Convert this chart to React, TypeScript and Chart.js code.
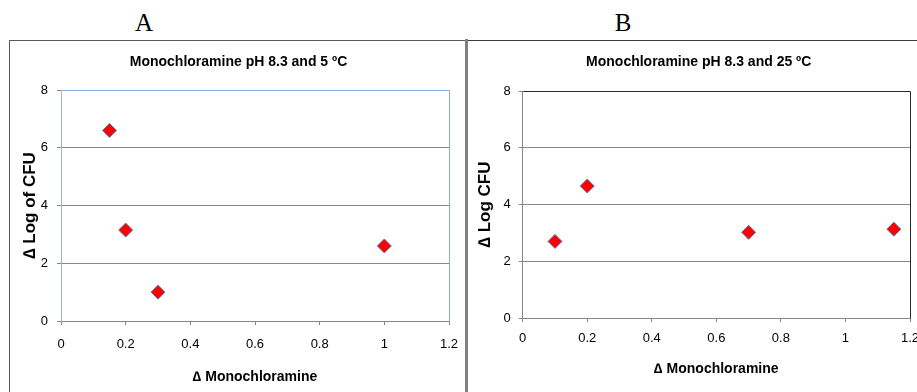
import React, { useEffect, useRef } from "react";
import { Chart, registerables } from "chart.js";

Chart.register(...registerables);

// ---- data ----
const panelLetters = ["A", "B"];
const titleA = "Monochloramine pH 8.3 and 5 ºC";
const titleB = "Monochloramine pH 8.3 and 25 ºC";
const yTitleA = "∆ Log of CFU";
const yTitleB = "∆ Log CFU";
const xTitle = "∆ Monochloramine";

const xTickValues = [0, 0.2, 0.4, 0.6, 0.8, 1.0, 1.2];
const xTickLabels = ["0", "0.2", "0.4", "0.6", "0.8", "1", "1.2"];
const yTickValues = [0, 2, 4, 6, 8];
const yTickLabels = ["0", "2", "4", "6", "8"];

const doseA = [0.15, 0.2, 0.3, 1.0];
const logA = [6.6, 3.15, 1.0, 2.6];
const doseB = [0.1, 0.2, 0.7, 1.15];
const logB = [2.7, 4.65, 3.02, 3.13];

const FONT = "'Liberation Sans', Arial, sans-serif";

const plotBorderPlugin = {
  id: "plotBorder",
  beforeDatasetsDraw(chart: any, _args: any, opts: any) {
    const { ctx, chartArea } = chart;
    const l = Math.round(chartArea.left) + 0.5;
    const r = Math.round(chartArea.right) + 0.5;
    const t = Math.round(chartArea.top) + 0.5;
    const b = Math.round(chartArea.bottom) + 0.5;
    ctx.save();
    ctx.strokeStyle = opts.color || "#000";
    ctx.lineWidth = 1;
    ctx.beginPath();
    ctx.moveTo(l, t);
    ctx.lineTo(r, t);
    ctx.lineTo(r, b);
    ctx.stroke();
    ctx.restore();
  },
};

type PanelProps = {
  width: number;
  height: number;
  xs: number[];
  ys: number[];
  title: string;
  yTitle: string;
  padL: number;
  padR: number;
  titlePadTop: number;
  titlePadBottom: number;
  yScaleWidth: number;
  xScaleHeight: number;
  yTitlePad: number;
  yTickPad: number;
  xTickPad: number;
  xTitlePadBottom: number;
  borderColor: string;
  yAxisColor: string;
};

function Panel(p: PanelProps) {
  const ref = useRef<HTMLCanvasElement | null>(null);
  useEffect(() => {
    if (!ref.current) return;
    const data = p.xs.map((x, i) => ({ x, y: p.ys[i] }));
    const chart = new Chart(ref.current, {
      type: "scatter",
      data: {
        datasets: [
          {
            data,
            pointStyle: "rectRot",
            pointRadius: 7,
            pointHoverRadius: 7,
            backgroundColor: "#ff0000",
            borderColor: "#4a7ebb",
            borderWidth: 1,
          },
        ],
      },
      plugins: [plotBorderPlugin],
      options: {
        responsive: false,
        animation: false,
        devicePixelRatio: 1,
        layout: { padding: { left: p.padL, right: p.padR, top: 0, bottom: 0 } },
        plugins: {
          legend: { display: false },
          tooltip: { enabled: false },
          plotBorder: { color: p.borderColor },
          title: {
            display: true,
            text: p.title,
            color: "#000",
            font: { family: FONT, size: 14, weight: "bold" },
            padding: { top: p.titlePadTop, bottom: p.titlePadBottom },
          },
        } as any,
        scales: {
          x: {
            type: "linear",
            min: 0,
            max: 1.2,
            afterBuildTicks: (axis: any) => {
              axis.ticks = xTickValues.map((v) => ({ value: v }));
            },
            afterFit: (axis: any) => {
              axis.height = p.xScaleHeight;
            },
            ticks: {
              color: "#000",
              font: { family: FONT, size: 13 },
              padding: p.xTickPad,
              maxRotation: 0,
              callback: (value: any) => {
                const i = xTickValues.findIndex((v) => Math.abs(v - value) < 1e-6);
                return i >= 0 ? xTickLabels[i] : "";
              },
            },
            grid: {
              display: true,
              drawOnChartArea: false,
              drawTicks: true,
              tickLength: 4,
              color: "#878787",
            },
            border: { display: true, color: "#878787", width: 1 },
            title: {
              display: true,
              text: xTitle,
              color: "#000",
              font: { family: FONT, size: 14, weight: "bold" },
              padding: { top: 0, bottom: p.xTitlePadBottom },
            },
          },
          y: {
            type: "linear",
            min: 0,
            max: 8,
            afterBuildTicks: (axis: any) => {
              axis.ticks = yTickValues.map((v) => ({ value: v }));
            },
            afterFit: (axis: any) => {
              axis.width = p.yScaleWidth;
            },
            ticks: {
              color: "#000",
              font: { family: FONT, size: 13 },
              padding: p.yTickPad,
              callback: (value: any) => {
                const i = yTickValues.findIndex((v) => Math.abs(v - value) < 1e-6);
                return i >= 0 ? yTickLabels[i] : "";
              },
            },
            grid: {
              display: true,
              drawOnChartArea: true,
              drawTicks: true,
              tickLength: 4,
              color: "#878787",
            },
            border: { display: true, color: p.yAxisColor, width: 1 },
            title: {
              display: true,
              text: p.yTitle,
              color: "#000",
              font: { family: FONT, size: 17, weight: "bold" },
              padding: { top: p.yTitlePad, bottom: 0 },
            },
          },
        },
      } as any,
    });
    return () => chart.destroy();
  }, []);
  return (
    <canvas
      ref={ref}
      width={p.width}
      height={p.height}
      style={{ width: p.width, height: p.height, display: "block" }}
    />
  );
}

export default function App() {
  return (
    <div
      style={{
        position: "fixed",
        left: 0,
        top: 0,
        width: 917,
        height: 392,
        overflow: "hidden",
        background: "#fff",
      }}
    >
      <div
        style={{
          position: "absolute",
          left: 144,
          top: 22,
          transform: "translate(-50%, -50%)",
          fontFamily: "'Liberation Serif', 'Times New Roman', serif",
          fontSize: 25,
          lineHeight: "25px",
          color: "#000",
        }}
      >
        {panelLetters[0]}
      </div>
      <div
        style={{
          position: "absolute",
          left: 623,
          top: 22,
          transform: "translate(-50%, -50%)",
          fontFamily: "'Liberation Serif', 'Times New Roman', serif",
          fontSize: 25,
          lineHeight: "25px",
          color: "#000",
        }}
      >
        {panelLetters[1]}
      </div>
      {/* panel A frame */}
      <div
        style={{
          position: "absolute",
          left: 9,
          top: 40,
          width: 460,
          height: 400,
          borderTop: "1px solid #5a5a5a",
          borderLeft: "1px solid #5a5a5a",
          boxSizing: "border-box",
        }}
      />
      {/* panel B top frame */}
      <div
        style={{
          position: "absolute",
          left: 468,
          top: 40,
          width: 449,
          height: 1,
          background: "#3a3a3a",
        }}
      />
      <div style={{ position: "absolute", left: 10, top: 41 }}>
        <Panel
          width={480}
          height={351}
          xs={doseA}
          ys={logA}
          title={titleA}
          yTitle={yTitleA}
          padL={18}
          padR={41}
          titlePadTop={13}
          titlePadBottom={19.2}
          yScaleWidth={33}
          xScaleHeight={71}
          yTitlePad={-8.2}
          yTickPad={9}
          xTickPad={12}
          xTitlePadBottom={6.6}
          borderColor="#8eaad8"
          yAxisColor="#a4b6d2"
        />
      </div>
      <div style={{ position: "absolute", left: 469, top: 41 }}>
        <Panel
          width={480}
          height={351}
          xs={doseB}
          ys={logB}
          title={titleB}
          yTitle={yTitleB}
          padL={18.4}
          padR={39}
          titlePadTop={12.6}
          titlePadBottom={20.6}
          yScaleWidth={35.3}
          xScaleHeight={74}
          yTitlePad={-12.1}
          yTickPad={8}
          xTickPad={9}
          xTitlePadBottom={14.6}
          borderColor="#2a2a2a"
          yAxisColor="#878787"
        />
      </div>
      {/* separator between panels */}
      <div
        style={{
          position: "absolute",
          left: 465,
          top: 39,
          width: 3,
          height: 360,
          background: "#808080",
        }}
      />
    </div>
  );
}
